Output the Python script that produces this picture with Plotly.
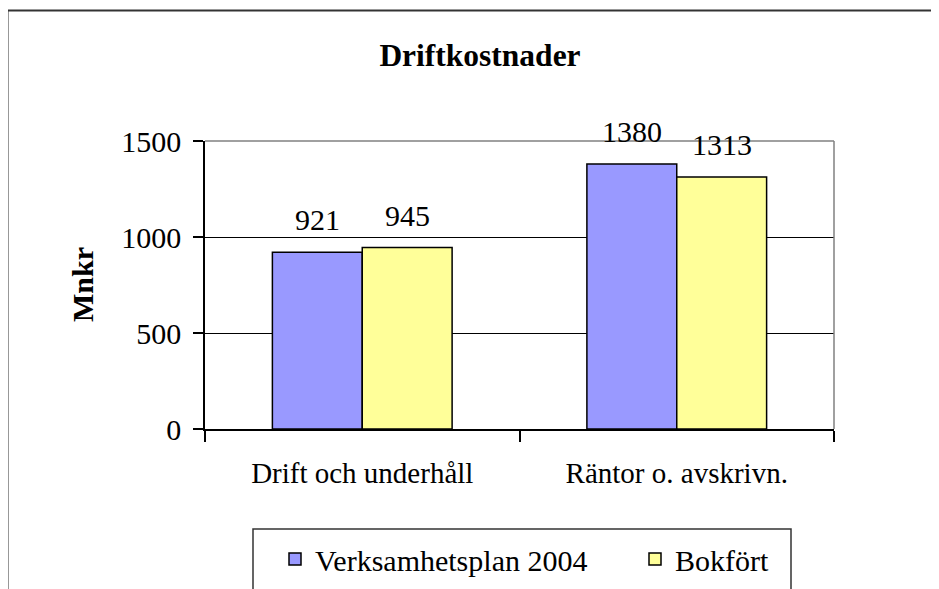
import plotly.graph_objects as go

categories = ["Drift och underhåll", "Räntor o. avskrivn."]
series_names = ["Verksamhetsplan 2004", "Bokfört"]
plan_values = [921, 1380]
booked_values = [945, 1313]
y_ticks = [0, 500, 1000, 1500]

colors = ["#9999FF", "#FFFF99"]
FONT = "Liberation Serif, Times New Roman, serif"

# page offset (default body margin of the html page)
OFF = 8
W, H = 939 - OFF, 589 - OFF
L, T = 205 - OFF, 141 - OFF
pw, ph = 629, 288
R, B = W - L - pw, H - T - ph


def px_x(x):
    """page pixel x -> paper coordinate"""
    return (x - OFF - L) / pw


def px_y(y):
    """page pixel y -> paper coordinate"""
    return (T + ph - (y - OFF)) / ph


fig = go.Figure()
legend_ids = ["legend", "legend2"]
for name, vals, col, lg in zip(series_names, [plan_values, booked_values], colors, legend_ids):
    fig.add_trace(go.Bar(
        x=categories, y=vals, name=name, legend=lg,
        marker=dict(color=col, line=dict(color="black", width=1.5)),
    ))

annotations = []
offsets = [-45, 45]
for vals, off in zip([plan_values, booked_values], offsets):
    for c, v in zip(categories, vals):
        annotations.append(dict(
            x=c, y=v, xref="x", yref="y", text=str(v), showarrow=False,
            xshift=off, yshift=14, yanchor="bottom",
            font=dict(family=FONT, size=30, color="black"),
        ))

annotations.append(dict(
    x=px_x(82), y=0.5, xref="paper", yref="paper", text="<b>Mnkr</b>",
    textangle=-90, showarrow=False, xanchor="center", yanchor="middle",
    font=dict(family=FONT, size=30, color="black"),
))

shapes = [
    # outer chart frame
    dict(type="rect", xref="paper", yref="paper",
         x0=px_x(7.5), x1=px_x(960), y0=px_y(10.5), y1=px_y(620),
         line=dict(color="#333333", width=2), layer="below"),
    # plot area border top/right
    dict(type="line", xref="paper", yref="paper", x0=0, x1=1, y0=1, y1=1,
         line=dict(color="#808080", width=1.5)),
    dict(type="line", xref="paper", yref="paper", x0=1, x1=1, y0=0, y1=1,
         line=dict(color="#808080", width=1.5)),
    # legend box
    dict(type="rect", xref="paper", yref="paper",
         x0=px_x(253), x1=px_x(791), y0=px_y(529), y1=px_y(620),
         line=dict(color="#333333", width=1.5)),
]

legend_common = dict(orientation="h", xanchor="left", yanchor="top",
                     bgcolor="rgba(0,0,0,0)", borderwidth=0,
                     font=dict(family=FONT, size=30, color="black"))

fig.update_layout(
    width=W, height=H,
    margin=dict(l=L, r=R, t=T, b=B, autoexpand=False),
    paper_bgcolor="white", plot_bgcolor="white",
    barmode="group", bargap=1.5 / 3.5, bargroupgap=0,
    title=dict(text="<b>Driftkostnader</b>", xref="paper", x=px_x(480), xanchor="center",
               y=1 - (55 - OFF) / H, yanchor="middle",
               font=dict(family=FONT, size=31.5, color="black")),
    font=dict(family=FONT, size=30, color="black"),
    showlegend=True,
    legend=dict(x=px_x(275), y=px_y(533), **legend_common),
    legend2=dict(x=px_x(635), y=px_y(533), **legend_common),
    annotations=annotations,
    shapes=shapes,
)

fig.update_xaxes(
    showline=True, linecolor="black", linewidth=1.5,
    ticks="outside", tickson="boundaries", ticklen=11, tickcolor="black", tickwidth=1.5,
    showgrid=False, ticklabelstandoff=17,
    tickfont=dict(family=FONT, size=29, color="black"),
)
fig.update_yaxes(
    range=[0, 1500], tickvals=y_ticks,
    showline=True, linecolor="black", linewidth=1.5,
    ticks="outside", ticklen=10, tickcolor="black", tickwidth=1.5,
    showgrid=True, gridcolor="black", gridwidth=1, zeroline=False,
    ticklabelstandoff=6,
    tickfont=dict(family=FONT, size=30, color="black"),
)

fig.write_html("out.html")
